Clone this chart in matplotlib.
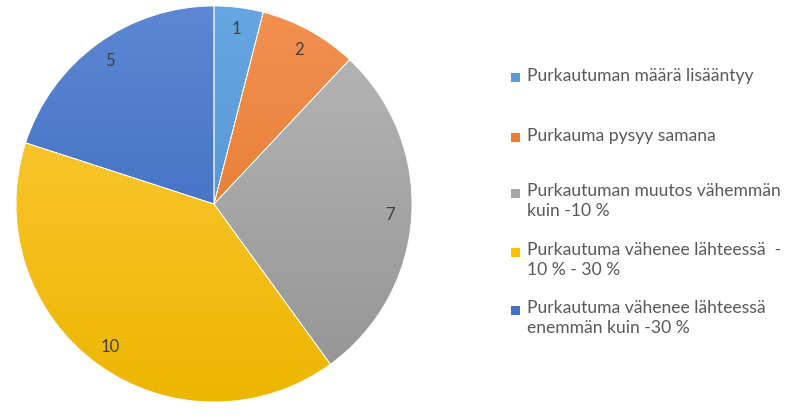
import matplotlib.pyplot as plt
import numpy as np
from matplotlib.colors import LinearSegmentedColormap
from matplotlib.patches import Rectangle

plt.rcParams['font.family'] = ['Lato', 'DejaVu Sans']

labels = [
    "Purkautuman määrä lisääntyy",
    "Purkauma pysyy samana",
    "Purkautuman muutos vähemmän\nkuin -10 %",
    "Purkautuma vähenee lähteessä  -\n10 % - 30 %",
    "Purkautuma vähenee lähteessä\nenemmän kuin -30 %",
]
values = [1, 2, 7, 10, 5]

base_colors = ["#5B9BD5", "#ED7D31", "#A5A5A5", "#FFC000", "#4472C4"]
# lighter at top, darker at bottom (Excel-style gradient)
top_colors = ["#66A6E2", "#F39152", "#B8B8B8", "#FFCC42", "#5C87D3"]
bottom_colors = ["#4A8BC8", "#DF6F1E", "#939393", "#EDB600", "#3562BA"]

W, H = 793, 416
fig = plt.figure(figsize=(W / 100, H / 100), dpi=100)

# pie geometry in pixels
cx, cy, r = 214, 204, 198
pad = 1.02
ax = fig.add_axes([(cx - r * pad) / W, (H - cy - r * pad) / H, 2 * r * pad / W, 2 * r * pad / H])
ax.set_aspect("equal")
ax.axis("off")

wedges, texts = ax.pie(
    values,
    labels=[str(v) for v in values],
    startangle=90,
    counterclock=False,
    radius=1,
    labeldistance=0.89,
    colors=base_colors,
    wedgeprops=dict(edgecolor="white", linewidth=0.6),
    textprops=dict(fontsize=12, color="#404040"),
)
ax.set_xlim(-pad, pad)
ax.set_ylim(-pad, pad)

# vertical gradient fill clipped to each wedge
grad = np.linspace(1, 0, 256).reshape(-1, 1)
for w, top, bot in zip(wedges, top_colors, bottom_colors):
    cmap = LinearSegmentedColormap.from_list("g", [bot, top])
    im = ax.imshow(grad, cmap=cmap, extent=(-1, 1, -1, 1), origin="upper",
                   aspect="auto", zorder=w.get_zorder() + 0.1, vmin=0, vmax=1)
    im.set_clip_path(w)
for w in wedges:
    w.set_facecolor("none")
    w.set_zorder(3)
for t in texts:
    t.set_zorder(4)
    t.set_ha("center")
    t.set_va("center")

# legend drawn by hand to match the uneven spacing
entry_y = [77.5, 137.5, 193, 252, 310]
for lab, col, y in zip(labels, base_colors, entry_y):
    fig.add_artist(Rectangle((511 / W, (H - y - 4.5) / H), 9 / W, 9 / H,
                             transform=fig.transFigure, facecolor=col, edgecolor="none"))
    fig.text(527 / W, (H - y + 10) / H, lab, fontsize=12.6, color="#595959",
             ha="left", va="top", linespacing=1.28)

fig.savefig("out.png", dpi=100, facecolor="white")
